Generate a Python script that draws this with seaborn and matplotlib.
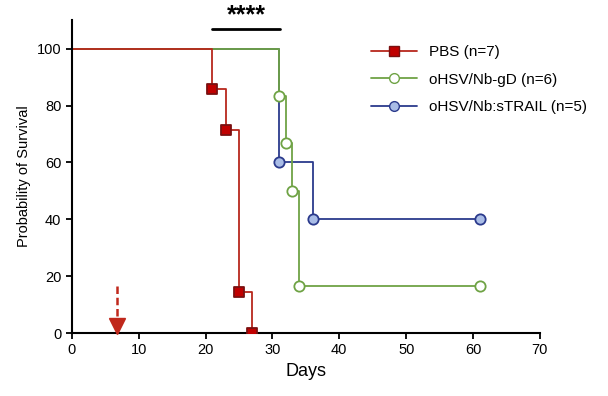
import numpy as np
import pandas as pd
from matplotlib import pyplot as plt
from matplotlib.lines import Line2D
import seaborn as sns


# ---- Data --------------------------------------------------------------------

pbs_days = [0, 21, 23, 25, 27]
pbs_surv = [100, 85.7, 71.4, 14.3, 0]

gd_days = [0, 31, 32, 33, 34, 61]
gd_surv = [100, 83.3, 66.7, 50, 16.7, 16.7]

trail_days = [0, 31, 36, 61]
trail_surv = [100, 60, 40, 40]

labels = ["PBS (n=7)", "oHSV/Nb-gD (n=6)", "oHSV/Nb:sTRAIL (n=5)"]
treatment_day = 6.7
sig_span = [21, 31.2]


# ---- Plotting ----------------------------------------------------------------

sns.set_style("ticks", {"axes.edgecolor": "black", "text.color": "black",
                        "axes.labelcolor": "black", "xtick.color": "black",
                        "ytick.color": "black"})
plt.rcParams["font.family"] = ["Liberation Sans", "DejaVu Sans"]

fig = plt.figure(figsize=(6.08, 3.96), dpi=100)
ax = fig.add_axes([0.118, 0.159, 0.77, 0.79])

series = [
    # days, surv, line colour, face, edge, marker
    (trail_days, trail_surv, "#2b3a8c", "#a9bce6", "#2b3a8c", "o"),
    (gd_days, gd_surv, "#6fa345", "white", "#6fa345", "o"),
    (pbs_days, pbs_surv, "#b8281c", "#c00000", "#7a1010", "s"),
]

for days, surv, color, face, edge, marker in series:
    df = pd.DataFrame({"day": days, "surv": surv})
    sns.lineplot(data=df, x="day", y="surv", ax=ax, color=color,
                 drawstyle="steps-post", linewidth=1.3, estimator=None)
    sns.scatterplot(data=df.iloc[1:], x="day", y="surv", ax=ax, marker=marker,
                    s=55, color=face, edgecolor=edge, linewidth=1.3, zorder=5)

# treatment arrow: dashed shaft plus solid head
ax.plot([treatment_day, treatment_day], [16.5, 4.5], color="#c0281c", lw=1.8,
        linestyle=(0, (3, 1.5)), clip_on=False, zorder=6)
ax.plot([treatment_day], [2.4], marker="v", markersize=11, color="#c0281c",
        clip_on=False, zorder=6)

# significance bar
ax.plot(sig_span, [107, 107], color="black", lw=2, clip_on=False)
ax.text(np.mean(sig_span), 107.5, "****", ha="center", va="bottom",
        fontsize=18, fontweight="bold")

ax.set_xlim(0, 70)
ax.set_ylim(0, 110)
ax.set_xticks(range(0, 71, 10))
ax.set_yticks(range(0, 101, 20))
ax.tick_params(labelsize=10.5, width=1.3, length=4)
ax.set_xlabel("Days", fontsize=13)
ax.set_ylabel("Probability of Survival", fontsize=10.5)
for side in ["left", "bottom"]:
    ax.spines[side].set_linewidth(1.5)
sns.despine(ax=ax)

handles = [
    Line2D([], [], color="#b8281c", marker="s", markerfacecolor="#c00000",
           markeredgecolor="#7a1010", markersize=7, lw=1.3),
    Line2D([], [], color="#6fa345", marker="o", markerfacecolor="white",
           markeredgecolor="#6fa345", markersize=7, lw=1.3),
    Line2D([], [], color="#2b3a8c", marker="o", markerfacecolor="#a9bce6",
           markeredgecolor="#2b3a8c", markersize=7, lw=1.3),
]
ax.legend(handles, labels, loc="upper left", bbox_to_anchor=(0.61, 0.965),
          frameon=False, fontsize=11, handlelength=3, labelspacing=0.9)

fig.savefig("out.png", dpi=100)
